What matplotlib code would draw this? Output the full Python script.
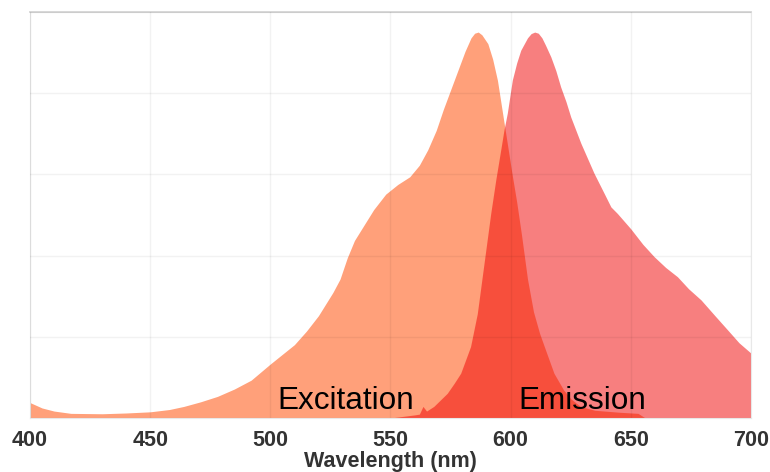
import numpy as np
import matplotlib
matplotlib.use('Agg')
import matplotlib.pyplot as plt

#=============== spectra ===============================
ex_wl = [400, 405, 410, 417, 430, 440, 450, 458, 464, 471, 478, 485, 492, 500,
	505, 510, 515, 520, 526, 529, 532, 535, 539, 543, 548, 553, 558, 562,
	565.5, 569, 572, 575, 578, 581, 583.5, 585, 586.5, 588, 590.5, 592.5,
	594.5, 597, 600.5, 602.5, 604.5, 607, 609.5, 612, 614, 618, 622, 625,
	629, 635, 645, 653, 656, 700]
ex_val = [0.04, 0.026, 0.018, 0.012, 0.011, 0.013, 0.016, 0.022, 0.03, 0.042,
	0.056, 0.075, 0.098, 0.14, 0.165, 0.19, 0.225, 0.265, 0.325, 0.36, 0.415,
	0.46, 0.50, 0.54, 0.58, 0.605, 0.625, 0.655, 0.695, 0.745, 0.80, 0.85,
	0.90, 0.95, 0.985, 0.997, 1.0, 0.993, 0.97, 0.93, 0.875, 0.775, 0.635,
	0.56, 0.475, 0.36, 0.275, 0.22, 0.185, 0.116, 0.073, 0.05, 0.03, 0.02,
	0.015, 0.012, 0.0, 0.0]

em_wl = [550, 555, 560, 562, 563.5, 565, 568, 573.6, 576.5, 579.2, 583.3,
	586.1, 588.9, 591.7, 593.8, 596, 597.2, 598.6, 600.7, 602.5, 604.2, 607,
	608.5, 610, 611.5, 613, 614.5, 616.7, 618.8, 620.8, 623, 625, 629.2,
	634.7, 638.9, 641.7, 644.4, 650, 655, 659.7, 664.5, 669.4, 674, 679.2,
	685, 690.3, 695, 700]
em_val = [0.0, 0.004, 0.008, 0.01, 0.03, 0.018, 0.03, 0.064, 0.09, 0.116,
	0.185, 0.27, 0.40, 0.53, 0.617, 0.70, 0.746, 0.79, 0.876, 0.92, 0.953,
	0.985, 0.996, 1.0, 0.997, 0.985, 0.966, 0.936, 0.90, 0.858, 0.82, 0.78,
	0.712, 0.634, 0.582, 0.547, 0.53, 0.49, 0.45, 0.418, 0.39, 0.366, 0.335,
	0.306, 0.265, 0.228, 0.195, 0.168]

x_ticks = [400, 450, 500, 550, 600, 650, 700]

#=============== figure ===============================
plt.rcParams['font.family'] = ['Liberation Sans', 'DejaVu Sans']

fig = plt.figure(figsize=(7.7, 4.72), dpi=100)
ax = fig.add_axes([30/770., 54/472., 721/770., 406/472.])

ax.fill_between(ex_wl, 0, ex_val, color='#ffa07a', lw=0)
ax.fill_between(em_wl, 0, em_val, color='#f10000', alpha=0.5, lw=0)

ymax = 1.052
ax.set_xlim(400, 700)
ax.set_ylim(0, ymax)
ax.set_xticks(x_ticks)
ax.set_yticks(np.linspace(0, ymax, 6))
ax.set_yticklabels([])
ax.grid(True, color='black', alpha=0.05, lw=1.0)
ax.set_axisbelow(False)
ax.tick_params(length=0, pad=9, labelsize=15.5, labelcolor='#333333')
for lab in ax.get_xticklabels():
	lab.set_fontweight('bold')

ax.spines['top'].set_color('#d4d4d4')
ax.spines['top'].set_linewidth(1.3)
for s in ['left', 'right', 'bottom']:
	ax.spines[s].set_color('#e8e8e8')

ax.set_xlabel('Wavelength (nm)', fontsize=15.5, fontweight='bold',
	color='#333333', labelpad=0)

ax.text(503.0, 0.023, 'Excitation', fontsize=22.7, color='black',
	ha='left', va='baseline')
ax.text(603.2, 0.023, 'Emission', fontsize=22.7, color='black',
	ha='left', va='baseline')

fig.savefig('out.png', dpi=100)
